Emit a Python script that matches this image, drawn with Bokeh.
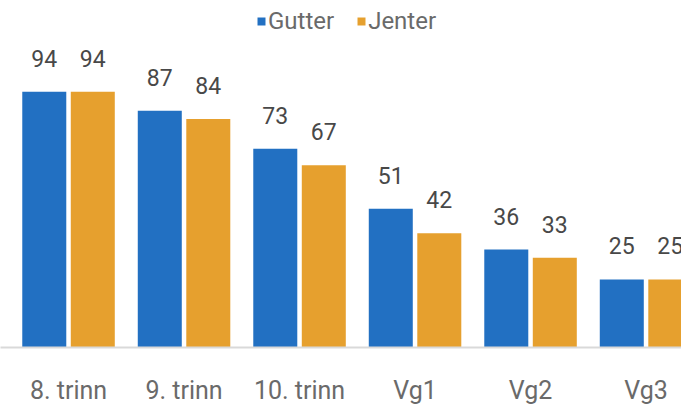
from bokeh.plotting import figure
from bokeh.models import ColumnDataSource, Range1d, LabelSet, FixedTicker, Legend, LegendItem
from bokeh.core.properties import value
from bokeh.transform import dodge
from bokeh.embed import file_html
from bokeh.resources import INLINE

categories = ["8. trinn", "9. trinn", "10. trinn", "Vg1", "Vg2", "Vg3"]
gutter = [94, 87, 73, 51, 36, 25]
jenter = [94, 84, 67, 42, 33, 25]
series_names = ["Gutter", "Jenter"]

BLUE = "#2270C2"
ORANGE = "#E6A02E"
FONT = "Roboto"

xpos = list(range(len(categories)))
src = ColumnDataSource(dict(x=xpos, gutter=gutter, jenter=jenter,
                            gl=[str(v) for v in gutter], jl=[str(v) for v in jenter]))

p = figure(frame_width=681, frame_height=347, output_backend="svg", toolbar_location=None,
           x_range=Range1d(-0.589, 5.307), y_range=Range1d(0, 127.5),
           y_axis_location=None, min_border_left=0, min_border_right=0,
           min_border_top=0, min_border_bottom=0)
p.outline_line_color = None
p.xgrid.visible = False
p.ygrid.visible = False
p.background_fill_color = "white"

w = 0.381
off = 0.21
r1 = p.vbar(x=dodge("x", -off), top="gutter", width=w, source=src, color=BLUE, line_color=None)
r2 = p.vbar(x=dodge("x", off), top="jenter", width=w, source=src, color=ORANGE, line_color=None)

for col, lab, d in (("gutter", "gl", -off), ("jenter", "jl", off)):
    p.add_layout(LabelSet(x=dodge("x", d), y=col, text=lab, source=src, text_align="center",
                          text_baseline="alphabetic", y_offset=25, text_font=value(FONT),
                          text_font_size="23px", text_color="#484848"))

ax = p.xaxis[0]
ax.ticker = FixedTicker(ticks=xpos)
ax.major_label_overrides = {i: c for i, c in enumerate(categories)}
ax.major_tick_line_color = None
ax.minor_tick_line_color = None
ax.axis_line_color = "#d9d9d9"
ax.axis_line_width = 2
ax.major_label_standoff = 22
ax.major_label_text_font = FONT
ax.major_label_text_font_size = "25px"
ax.major_label_text_color = "#6a6a6a"

legend = Legend(items=[LegendItem(label=series_names[0], renderers=[r1]),
                       LegendItem(label=series_names[1], renderers=[r2])],
                orientation="horizontal", location=(256, 312), padding=0, margin=0,
                spacing=22, label_standoff=2, glyph_width=10, glyph_height=10,
                label_text_font=FONT, label_text_font_size="24px", label_text_color="#6a6a6a",
                border_line_color=None, background_fill_alpha=0)
p.add_layout(legend)

open("out.html", "w").write(file_html(p, INLINE))
